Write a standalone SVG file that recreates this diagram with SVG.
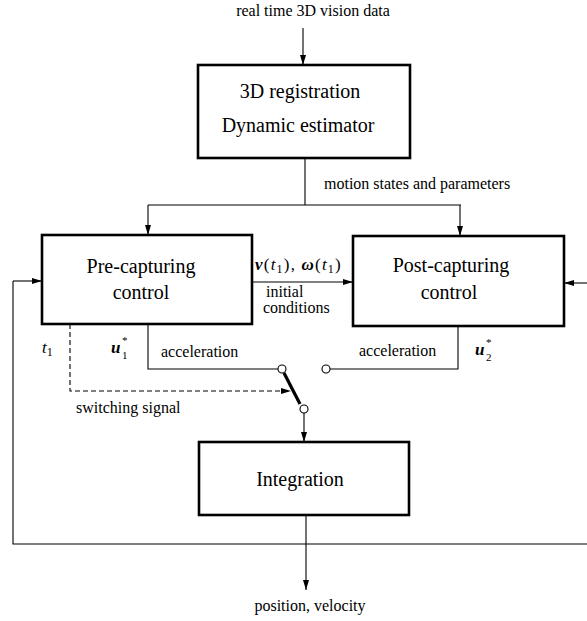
<svg xmlns="http://www.w3.org/2000/svg" width="587" height="621" viewBox="0 0 587 621">
<defs>
<marker id="arr" viewBox="0 0 10 6" refX="10" refY="3" markerWidth="10" markerHeight="6" markerUnits="userSpaceOnUse" orient="auto">
<path d="M0,0 L10,3 L0,6 z" fill="#000"/>
</marker>
</defs>
<style>
.box{fill:#fff;stroke:#000;stroke-width:2.6}
.bt{font-family:"Liberation Serif","Times New Roman",serif;font-size:20px;fill:#000;text-anchor:middle}
.lb{font-family:"Liberation Serif","Times New Roman",serif;font-size:16px;fill:#000}
.mt{font-family:"Liberation Serif","Times New Roman",serif;font-size:17px;fill:#000;font-style:italic}
.sub{font-family:"Liberation Serif","Times New Roman",serif;font-size:11px;fill:#000}
.mb{font-weight:bold}
.ln{fill:none;stroke:#000;stroke-width:1.1}
.ar{marker-end:url(#arr)}
.dash{stroke-dasharray:5,3}
.sw{fill:#fff;stroke:#000;stroke-width:1.1}
</style>
<rect width="587" height="621" fill="#fff"/>
<g id="connectors">
<path class="ln ar" d="M303,28 V65"/>
<path class="ln" d="M305,158 V205 M148,205 H461"/>
<path class="ln ar" d="M148,205 V235"/>
<path class="ln ar" d="M460,205 V236"/>
<path class="ln ar" d="M252,282 H353"/>
<path class="ln" d="M148,324 V369 H278"/>
<path class="ln" d="M458,326 V369 H330"/>
<path class="ln dash ar" d="M70,324 V391 H291"/>
<path d="M284,373 L300,404" stroke="#000" stroke-width="3.2" fill="none"/>
<circle class="sw" cx="282" cy="369" r="4"/>
<circle class="sw" cx="326" cy="369" r="4"/>
<circle class="sw" cx="304" cy="409" r="4"/>
<path class="ln ar" d="M304,413 V442"/>
<path class="ln ar" d="M306,515 V590"/>
<path class="ln" d="M587,544 H13 V281"/>
<path class="ln ar" d="M13,281 H42"/>
<path class="ln ar" d="M587,283 H564"/>
</g>
<g id="registration">
<rect class="box" x="198" y="65" width="212" height="93"/>
<text class="bt" x="300" y="98">3D registration</text>
<text class="bt" x="298" y="132">Dynamic estimator</text>
</g>
<g id="precapturing">
<rect class="box" x="42" y="235" width="210" height="89"/>
<text class="bt" x="141" y="273">Pre-capturing</text>
<text class="bt" x="141" y="299">control</text>
</g>
<g id="postcapturing">
<rect class="box" x="353" y="236" width="211" height="90"/>
<text class="bt" x="451" y="272">Post-capturing</text>
<text class="bt" x="449" y="299">control</text>
</g>
<g id="integration">
<rect class="box" x="199" y="442" width="210" height="73"/>
<text class="bt" x="300" y="486">Integration</text>
</g>
<g id="labels">
<text class="lb" x="313" y="16" text-anchor="middle">real time 3D vision data</text>
<text class="lb" x="324" y="189">motion states and parameters</text>
<text class="mt" x="255" y="270" letter-spacing="1.2"><tspan class="mb">v</tspan><tspan font-style="normal">(</tspan>t<tspan font-size="12" dy="3" font-style="normal">1</tspan><tspan font-style="normal" dy="-3">), </tspan><tspan class="mb">ω</tspan><tspan font-style="normal">(</tspan>t<tspan font-size="12" dy="3" font-style="normal">1</tspan><tspan font-style="normal" dy="-3">)</tspan></text>
<text class="lb" x="266" y="297">initial</text>
<text class="lb" x="263" y="313">conditions</text>
<text class="mt" x="42" y="353">t<tspan font-size="12" dy="3" font-style="normal">1</tspan></text>
<text class="mt mb" x="111" y="353">u</text>
<text class="sub" x="122" y="359">1</text>
<text class="sub" x="122" y="344">*</text>
<text class="lb" x="161" y="357">acceleration</text>
<text class="lb" x="359" y="356">acceleration</text>
<text class="mt mb" x="475" y="355">u</text>
<text class="sub" x="486" y="361">2</text>
<text class="sub" x="486" y="346">*</text>
<text class="lb" x="76" y="413">switching signal</text>
<text class="lb" x="310" y="611" text-anchor="middle">position, velocity</text>
</g>
</svg>
